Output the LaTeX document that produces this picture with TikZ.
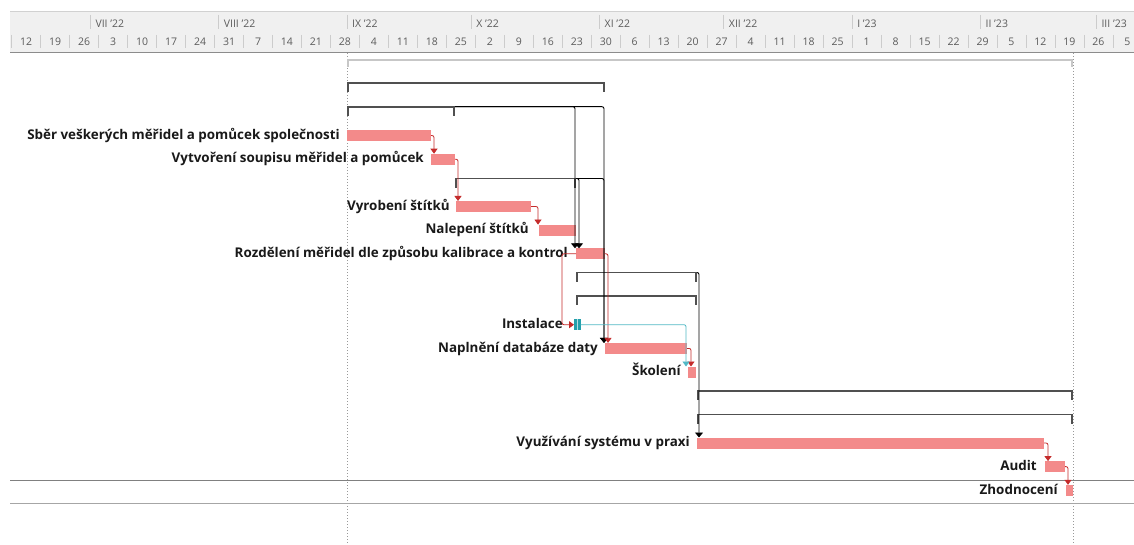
\documentclass[tikz,border=0pt]{standalone}
\usepackage{fontspec}
\setmainfont{Open Sans}
\usetikzlibrary{arrows.meta,calc}

\definecolor{barfill}{HTML}{F38A8A}
\definecolor{linkred}{HTML}{C42B2B}
\definecolor{sumgrey}{HTML}{505050}
\definecolor{msteal}{HTML}{23A0AC}
\definecolor{linkcyan}{HTML}{52B9C6}
\definecolor{hdrfill}{HTML}{F0F0F0}
\definecolor{hdrtext}{HTML}{5C5C5C}

\tikzset{
  taskbar/.style={fill=barfill, draw=none, minimum height=11pt, inner sep=0pt,
                  outer sep=0pt, anchor=west},
  tasklabel/.style={font=\bfseries\fontsize{13.4}{15}\selectfont, text=black!90,
                    inner sep=0pt, anchor=base east},
  hdrtxt/.style={font=\fontsize{10.5}{12}\selectfont, text=hdrtext, inner sep=0pt},
  hdrsep/.style={draw=black!20, line width=0.6pt},
  sumline/.style={draw=sumgrey, line width=1.8pt},
  redlink/.style={draw=linkred, line width=0.8pt, rounded corners=2pt,
                  -{Triangle[width=7pt,length=5pt]}},
  blacklink/.style={draw=black, line width=0.9pt, rounded corners=2pt,
                    -{Triangle[width=8pt,length=5pt]}},
  cyanlink/.style={draw=linkcyan, line width=0.8pt, rounded corners=2pt,
                   -{Triangle[width=7pt,length=5pt]}},
  projline/.style={draw=black!40, dash pattern=on 1pt off 2pt, line width=0.6pt},
}

% summary bracket: name, start x, end x, y
\newcommand\sumbar[4]{%
  \coordinate (#1a) at (#2,#4);
  \coordinate (#1b) at (#3,#4);
  \draw[sumline] (#1a) -- (#1b);
  \fill[sumgrey] (#1a) ++(0,-0.9) rectangle ++(2.4,10);
  \fill[sumgrey] (#1b) ++(-2.4,-0.9) rectangle ++(2.4,10);
}

\begin{document}
\begin{tikzpicture}[x=1pt,y=-1pt]
\useasboundingbox (0,0) rectangle (1134,545);
\fill[white] (0,0) rectangle (1134,545);

% ---- timescale ----
\fill[hdrfill] (10,11) rectangle (1134,52);
\draw[black!18, line width=0.6pt] (10,11) -- (1134,11);
\draw[black!45, line width=0.8pt] (10,52) -- (1134,52);

\foreach \d/\lab in {-62/VII '22, -31/VIII '22, 0/IX '22, 30/X '22, 61/XI '22,
                     91/XII '22, 122/I '23, 153/II '23, 181/III '23} {
  \pgfmathsetmacro\xm{347+\d*4.14}
  \draw[hdrsep] (\xm,15) -- (\xm,29);
  \node[hdrtxt, anchor=base west] at ({\xm+5},27.5) {\lab};
}
\foreach \lab [count=\k from 0] in {12,19,26,3,10,17,24,31,7,14,21,28,4,11,18,25,
                                  2,9,16,23,30,6,13,20,27,4,11,18,25,1,8,15,22,29,
                                  5,12,19,26,5} {
  \pgfmathsetmacro\xw{347+(-81+7*\k)*4.14}
  \draw[hdrsep] (\xw,35) -- (\xw,48);
  \node[hdrtxt, anchor=base] at ({\xw+14.5},46) {\lab};
}

% ---- project start / finish markers ----
\draw[projline] (347,53) -- (347,545);
\draw[projline] (1073,53) -- (1073,545);

% ---- selected row ----
\draw[black!50, line width=0.7pt] (10,480) -- (1134,480);
\draw[black!35, line width=0.7pt] (10,503) -- (1134,503);

% ---- project summary ----
\coordinate (pa) at (347,60);
\coordinate (pb) at (1073,60);
\draw[black!22, line width=2pt] (pa) -- (pb);
\fill[black!22] (pa) ++(0,-1) rectangle ++(2,8);
\fill[black!22] (pb) ++(-2,-1) rectangle ++(2,8);

% ---- summary tasks ----
\sumbar{s1}{347}{605}{83}
\sumbar{s2}{347}{455}{106.7}
\sumbar{s5}{455}{576}{178.5}
\sumbar{s9}{576}{697}{272.5}
\sumbar{s10}{576}{697}{296}
\sumbar{s14}{697}{1073}{391}
\sumbar{s15}{697}{1073}{414.5}

% ---- task bars ----
\node[taskbar, minimum width=84pt]  (b3)  at (347,135.5) {};
\node[taskbar, minimum width=24pt]  (b4)  at (431,159.2) {};
\node[taskbar, minimum width=75pt]  (b6)  at (456,206.5) {};
\node[taskbar, minimum width=37pt]  (b7)  at (539,230.1) {};
\node[taskbar, minimum width=29pt]  (b8)  at (576,253.8) {};
\node[taskbar, minimum width=82pt]  (b12) at (605,348.4) {};
\node[taskbar, minimum width=8pt]   (b13) at (688,372) {};
\node[taskbar, minimum width=347pt] (b16) at (697,443) {};
\node[taskbar, minimum width=20pt]  (b17) at (1045,466.6) {};
\node[taskbar, minimum width=7pt]   (b18) at (1066,490.3) {};

% Instalace
\node[fill=msteal, minimum width=6.5pt, minimum height=11.5pt, inner sep=0pt,
      outer sep=0pt, anchor=west] (ms) at (574,324.7) {};
\draw[msteal!35!white, line width=0.9pt] (ms.north) -- (ms.south);

% ---- task names ----
\node[tasklabel] (t3)  at (340,139.3) {Sběr veškerých měřidel a pomůcek společnosti};
\node[tasklabel] (t4)  at (424,163)   {Vytvoření soupisu měřidel a pomůcek};
\node[tasklabel] (t6)  at (450,210.3) {Vyrobení štítků};
\node[tasklabel] (t7)  at (529,233.9) {Nalepení štítků};
\node[tasklabel] (t8)  at (568,257.6) {Rozdělení měřidel dle způsobu kalibrace a kontrol};
\node[tasklabel] (t11) at (563,328.5) {Instalace};
\node[tasklabel] (t12) at (598,352.2) {Naplnění databáze daty};
\node[tasklabel] (t13) at (681,375.8) {Školení};
\node[tasklabel] (t16) at (690,446.8) {Využívání systému v praxi};
\node[tasklabel] (t17) at (1037,470.4) {Audit};
\node[tasklabel] (t18) at (1058,494.1) {Zhodnocení};

% ---- links from summary tasks ----
\draw[blacklink] (s2b) -| ([xshift=-1pt]b8.north west);
\draw[blacklink] (s5b) -| ([xshift=3pt]b8.north west);
\draw[blacklink] (s2b) -| ([xshift=-1pt]b12.north west);
\draw[blacklink] (s5b) -| ([xshift=-1pt]b12.north west);
\draw[blacklink] (s9b) -| ([xshift=2pt]b16.north west);

% ---- task links ----
\draw[redlink] (b3.east)  -| ([xshift=3pt]b4.north west);
\draw[redlink] (b4.east)  -| ([xshift=2pt]b6.north west);
\draw[redlink] (b6.east)  -| ([xshift=-1pt]b7.north west);
\draw[redlink] (b8.east)  -| ([xshift=3pt]b12.north west);
\draw[redlink] (b8.west) -- ++(-14,0) |- (ms.west);
\draw[redlink] (b12.east) -| ([xshift=3pt]b13.north west);
\draw[redlink] (b16.east) -| ([xshift=3pt]b17.north west);
\draw[redlink] (b17.east) -| ([xshift=2pt]b18.north west);
\draw[cyanlink] (ms.east) -| ([xshift=-2pt]b13.north west);
\end{tikzpicture}
\end{document}
